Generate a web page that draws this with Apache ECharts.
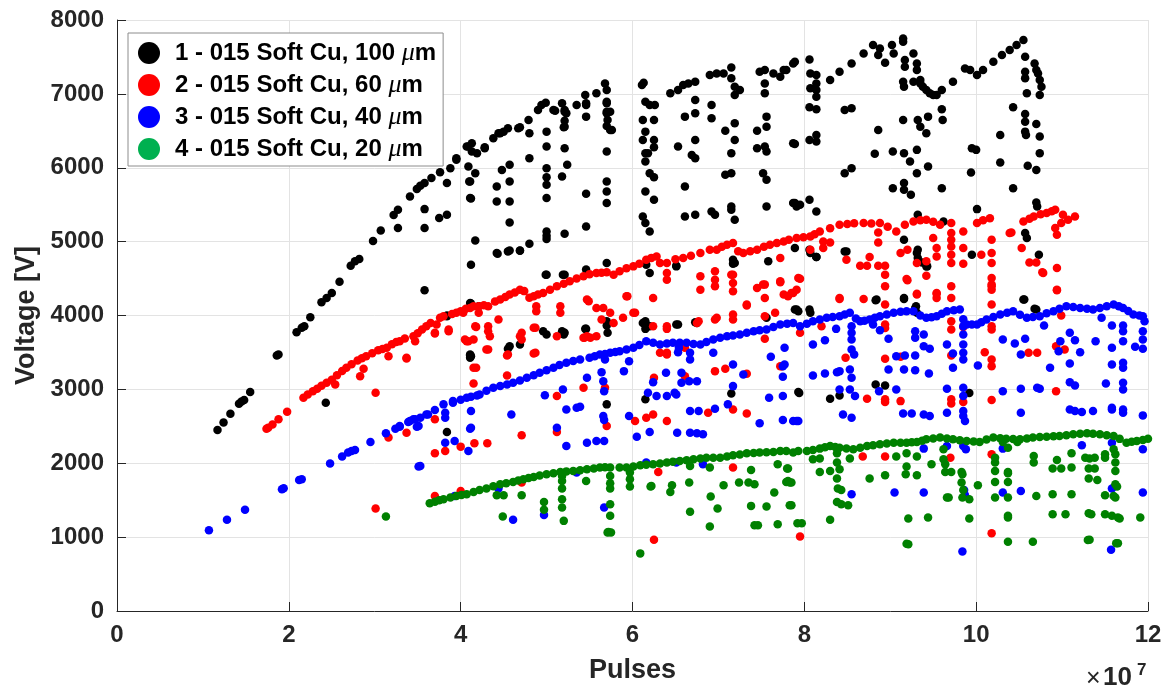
<!DOCTYPE html>
<html>
<head>
<meta charset="utf-8">
<script src="https://cdn.jsdelivr.net/npm/echarts@6/dist/echarts.min.js"></script>
<style>
  html, body { margin: 0; padding: 0; background: #ffffff; }
  #chart { width: 1165px; height: 689px; }
</style>
</head>
<body>
<div id="chart"></div>
<script>
// Breakdown voltage vs. accumulated pulses (pulses in units of 1e7)
const seriesNames = [
  '1 - 015 Soft Cu, 100 μm',
  '2 - 015 Soft Cu, 60 μm',
  '3 - 015 Soft Cu, 40 μm',
  '4 - 015 Soft Cu, 20 μm'
];

// 100 um gap
const black = [
  [1.17,2450],[1.24,2550],[1.32,2670],[1.42,2806],[1.45,2837],[1.48,2855],[1.55,2963],
  [1.86,3460],[1.88,3472],[2.09,3773],[2.15,3833],[2.18,3854],[2.25,3976],[2.38,4179],[2.44,4238],
  [2.5,4305],[2.59,4458],[2.72,4674],[2.77,4733],[2.82,4765],[2.98,5008],[3.07,5151],[3.22,5359],
  [3.27,5431],[3.41,5611],[3.49,5711],[3.53,5755],[3.58,5792],[3.66,5860],[3.76,5940],
  [3.88,5994],[3.95,6107],[3.95,6129],[4.07,6287],[4.09,6287],[4.13,6332],[4.13,6219],[4.19,6197],
  [4.28,6265],[4.28,6278],[4.38,6400],[4.44,6467],[4.46,6467],[4.5,6489],[4.55,6535],[4.67,6535],
  [4.69,6548],[4.79,6647],[4.9,6782],[4.94,6849],[4.99,6881],[5.08,6782],[5.1,6773],[5.18,6872],
  [5.21,6782],[5.35,6849],[5.45,6985],[5.58,7008],[5.68,7142],
  [6.11,7120],[6.13,7151],[6.44,7008],[6.53,7052],[6.59,7120],[6.65,7142],[6.73,7165],[6.9,7255],
  [6.98,7277],[7.06,7277],[7.15,7358],[7.48,7299],[7.54,7322],[7.64,7277],[7.72,7232],[7.76,7322],
  [7.79,7322],[7.87,7412],[7.89,7435],[8.06,7466],[8.3,7187],[8.41,7299],[8.55,7412],[8.69,7548],
  [8.8,7660],[8.86,7525],[8.88,7615],[8.94,7421],[9.02,7660],[9.04,7548],[9.15,7750],[9.15,7705],
  [9.27,7548],[9.31,7412],[9.31,7322],[9.35,7187],[9.42,7052],[9.5,6985],[9.6,7052],[9.46,7008],
  [9.54,6985],[9.73,7165],[9.87,7345],[9.93,7322],[10.01,7255],[10.08,7322],[10.2,7435],[10.3,7525],
  [10.39,7593],[10.47,7660],[10.55,7728],[10.57,7502],[10.68,7412],[10.72,7277],[10.74,7187],
  [10.74,6985],[10.7,7322],[10.76,7097],
  [2.43,2820],[3.27,5183],[3.58,5440],[3.58,5183],[3.75,5319],[3.84,5363],[3.58,4341],[4.10,5813],
  [4.12,5584],[4.17,5016],[4.12,4688],[3.84,3999],[4.12,4161],[4.12,3449],[3.84,5792],
  [4.09,6017],[4.17,5926],[4.11,5814],[4.11,5589],[4.11,4170],[4.21,4125],[4.11,3472],[4.57,3585],
  [4.69,3607],[4.42,5746],[4.42,5543],[4.48,5971],[4.57,6039],[4.57,5814],[4.57,5543],[4.57,5259],
  [4.42,4846],[4.57,4881],[4.69,4881],[4.8,4972],[4.8,6467],[4.8,6130],
  [5.0,6489],[5.0,6287],[5.0,5994],[5.0,5873],[5.0,5769],[5.0,5589],[5.0,5138],[5.0,5080],[5.0,5035],[5.0,4553],
  [5.21,6637],[5.21,6556],[5.21,6265],[5.24,6039],[5.18,5881],[5.21,5107],[5.21,4553],[5.21,3765],
  [5.21,6759],[5.23,6737],[5.2,6548],
  [5.46,6872],[5.46,6692],[5.46,5647],[5.46,5205],[5.46,4621],[5.46,3819],[5.46,6849],
  [5.7,6872],[5.7,6737],[5.71,6647],[5.74,6512],[5.7,6219],[5.7,5814],[5.7,5679],[5.7,5522],
  [5.7,4711],[5.71,3900],[5.71,3765],[5.7,7052],[5.7,6894],[5.7,6759],[5.74,6759],[5.7,6566],[5.76,6512],
  [6.15,6894],[6.2,6849],[6.12,6647],[6.25,6647],[6.15,6489],[6.25,6377],[6.12,6377],[6.25,6278],
  [6.15,6197],[6.15,6084],[6.2,5926],[6.25,5873],[6.15,5679],[6.25,5567],[6.12,5341],[6.15,5251],
  [6.2,5138],[6.2,4576],[6.12,3900],[6.2,3854],[6.26,6849],[6.18,6197],
  [6.73,6918],[6.73,6737],[6.73,6377],[6.69,6174],[6.73,6129],[6.61,6692],[6.53,6287],[6.61,5746],
  [6.61,5341],[6.73,5363],[6.51,4665],[6.53,3877],[6.75,3900],
  [7.15,7210],[7.19,7097],[7.19,6985],[7.25,7052],[7.19,6602],[7.19,6377],[7.15,6197],[7.08,5904],
  [7.15,5926],[7.15,5476],[7.15,5431],[7.19,5296],[7.19,4711],
  [6.92,6849],[6.92,6669],[7.08,6502],[6.92,5408],[6.96,5363],
  [7.54,7142],[7.54,7008],[7.56,6692],[7.56,6556],[7.45,6502],[7.45,6265],[7.54,6287],[7.56,6219],
  [7.52,5926],[7.56,5836],[7.56,5476],[7.87,6332],[7.87,5522],[7.91,5476],
  [8.07,7277],[8.14,7255],[8.14,7142],[8.07,7075],[8.14,7052],[8.14,6962],[8.06,6818],[8.14,6791],
  [8.14,6444],[8.06,6377],[8.14,6354],[7.89,6323],[8.06,5567],[8.14,5408],[7.89,5522],[7.95,5498],
  [7.89,4914],[8.06,4891],[8.14,4792],[7.89,4080],[8.06,4080],
  [8.47,6782],[8.55,6805],[8.86,6512],[8.47,5926],[8.55,5994],[8.82,6188],[8.47,4868],[8.84,4215],
  [9.17,7458],[9.17,7367],[9.15,7165],[9.16,7097],[9.15,6647],[9.03,6219],[9.16,6197],[9.16,5792],
  [9.16,5701],[9.24,5634],[9.03,5724],[9.16,4238],[9.16,5026],
  [9.27,7165],[9.35,7142],[9.38,7097],[9.32,6647],[9.35,6556],[9.42,6467],[9.44,6692],[9.23,6084],
  [9.31,6242],[9.31,5926],[9.44,6017],[9.6,6791],[9.61,6647],[9.6,5724],[9.32,5363],[9.32,4891],
  [9.32,4779],[9.42,4665],[9.62,5273],[9.3,4125],
  [9.95,6265],[10.0,6242],[9.94,5935],[10.01,5440],[10.28,6444],[10.28,6070],[10.43,6818],[10.43,5724],
  [10.57,7299],[10.57,7210],[10.59,7008],[10.57,6728],[10.57,6624],[10.57,6489],[10.58,6444],[10.6,6026],
  [10.7,5971],[10.7,6593],[10.74,6422],[10.74,6197],[10.7,5530],[10.71,5476],[10.57,5116],[10.59,5048],
  [10.73,4823],[10.55,4215],[10.68,4090],
  [4.43,4837],[4.55,4868],[4.69,4877],[4.99,4553],[5.19,4553],[3.84,3990],[4.11,3459],[4.11,3427],
  [4.55,3549],[4.96,3787],[5.0,3742],[5.18,3787],[5.2,3742],[5.45,3819],[5.7,3922],[5.7,3864],
  [5.7,2797],[3.84,2423],[6.15,3922],[6.15,3819],[6.15,2865],[6.16,4688],[6.51,4674],[6.51,3877],
  [6.73,3909],[7.17,4755],[7.17,4701],[7.56,3968],[7.91,4080],[7.15,2945],[7.93,2963],[7.58,4733],
  [7.93,4058],[8.07,4036],[7.94,2952],[8.3,2874],[8.41,2918],[8.83,4206],[9.16,4224],[9.29,4103],
  [9.31,4036],[8.83,3067],[8.94,3053],[9.92,2952],[10.56,4215],[10.7,4080],[9.31,4846],[9.37,4719],
  [9.43,4665],[9.95,4823],[8.07,4846],[8.14,4792],[8.49,4868]
];

// 60 um gap
const red = [
  [1.74,2468],[1.76,2482],[1.81,2526],[1.88,2594],[1.98,2698],[2.17,2887],[2.22,2930],[2.28,2975],
  [2.33,3010],[2.38,3050],[2.44,3090],[2.5,3130],[2.56,3190],[2.62,3250],[2.67,3292],[2.73,3340],
  [2.8,3390],[2.85,3420],[2.9,3449],[2.97,3490],[3.04,3530],[3.09,3545],[3.14,3563],[3.2,3610],
  [3.25,3640],[3.29,3652],[3.35,3690],[3.45,3719],[3.5,3760],[3.55,3810],[3.6,3854],[3.65,3900],
  [3.72,3877],[3.76,3968],[3.8,3990],[3.9,4020],[3.95,4036],[4.0,4057],[4.06,4090],[4.11,4103],
  [4.15,4125],[4.21,4125],[4.27,4140],[4.32,4125],[4.4,4190],[4.46,4215],[4.52,4250],[4.57,4283],
  [4.63,4310],[4.69,4350],[4.74,4330],[4.8,4240],[4.85,4260],[4.9,4283],[4.96,4305],[5.04,4350],
  [5.12,4395],[5.2,4430],[5.27,4462],[5.35,4500],[5.43,4530],[5.5,4560],[5.58,4576],[5.64,4580],
  [5.7,4584],[5.78,4553],[5.85,4598],[5.93,4640],[6.01,4665],[6.08,4700],[6.16,4755],[6.22,4780],
  [6.28,4800],[6.32,4711],[6.4,4711],[6.5,4760],[6.59,4779],[6.68,4810],[6.79,4846],[6.9,4891],
  [6.98,4891],[7.04,4930],[7.1,4958],[7.17,4981],[7.23,4870],[7.29,4846],[7.37,4870],[7.45,4891],
  [7.53,4930],[7.6,4958],[7.68,4980],[7.76,5003],[7.82,5025],[7.91,5048],[7.99,5060],[8.07,5071],
  [8.12,5100],[8.18,5138],[8.3,5180],[8.41,5228],[8.5,5240],[8.58,5250],[8.69,5251],[8.78,5245],
  [8.88,5251],[8.97,5200],[9.07,5138],[9.17,5230],[9.27,5273],[9.35,5290],[9.42,5296],[9.5,5270],
  [9.58,5228],[9.71,5251],[9.85,5138],[10.01,5251],[10.08,5290],[10.16,5318],[10.55,5273],[10.62,5310],
  [10.67,5341],[10.75,5370],[10.82,5386],[10.88,5410],[10.92,5431],[10.99,5251],[11.01,5363],
  [11.07,5296],[11.15,5341],
  [2.54,3067],[3.01,2955],[3.01,1387],[3.16,2347],[3.37,2414],[2.83,3179],[2.87,3279],[3.16,3449],
  [3.37,3418],[3.47,3652],[3.7,3756],[3.86,3787],[4.09,3652],[4.15,3675],[4.17,3854],[4.18,3292],
  [4.15,3080],[3.7,2594],
  [4.03,4036],[4.21,4036],[4.32,3854],[4.34,3719],[4.05,3675],[4.3,3540],[4.55,3472],[4.69,3719],
  [4.87,3833],[4.87,3495],[5.16,4125],[5.16,4036],[5.12,3719],[5.47,4215],[5.58,4103],[5.66,4103],
  [5.64,3945],[5.78,3900],[5.89,3968],[6.01,4036],[5.47,3719],[5.43,3698],[5.93,4260],[6.24,4238],
  [6.24,3854],[6.4,4576],[6.4,4485],[6.4,3854],[6.32,3495],[6.4,3472],[6.79,4530],[6.79,4350],
  [6.75,3900],[6.96,4598],[6.96,4485],[6.96,4395],[6.98,3968],[7.17,4553],[7.17,4327],[7.17,4013],
  [7.17,3945],[7.33,4148],[7.45,4373],[7.54,4418],[7.54,4238],[7.54,3990],[7.72,4779],[7.72,4462],
  [7.76,4283],[7.87,4305],[7.91,4350],
  [3.37,3427],[3.7,3765],[3.86,3810],[4.07,3652],[4.18,3846],[4.32,3787],[4.32,3540],[4.15,3292],
  [4.54,3459],[4.44,3945],[4.71,3765],[4.71,3675],[4.54,3188],[4.85,3833],[4.85,3486],[4.88,4125],
  [4.88,4058],[5.44,3698],[5.51,3698],[5.49,4193],[5.58,3719],[5.74,4036],[5.94,4260],[6.03,4036],
  [6.4,3819],[6.4,3495],[6.25,3157],[6.24,2661],[6.4,2571],[6.03,2571],[6.16,2617],[6.61,3563],
  [6.61,3179],[6.77,3922],[6.96,3945],[6.96,3247],[7.08,3279],[6.88,2685],[7.17,2729],[7.33,2675],
  [7.17,1941],[7.15,4553],[7.17,4441],[7.54,3684],[7.33,4134],[7.52,4418],[7.72,4449],[7.66,4036],
  [7.85,4305],[7.72,3314],[7.33,3211],[6.25,963],[3.7,1558],[4.0,1625],[3.7,2135],[3.82,2166],
  [4.0,2225],[4.16,2270],[4.31,2270],[4.71,2378],[5.12,2423],[5.43,3022],[5.12,2909],[5.68,3022],
  [5.7,2504],[4.71,1739],[6.3,1882],
  [7.95,4499],[7.81,4260],[7.74,3314],[7.95,3765],[8.2,3854],[8.41,4224],[8.49,4755],[8.69,4224],
  [8.65,4674],[8.73,4674],[8.86,4674],[8.94,4674],[8.94,4553],[8.94,4395],[8.94,4148],[8.94,3877],
  [8.94,3832],[8.48,3427],[8.94,3414],[8.73,2874],[8.94,2865],[8.94,2828],[8.68,2090],[8.94,2090],
  [9.12,2841],[9.12,3441],[9.2,4476],[9.31,4296],[9.31,4711],[9.54,4296],[9.54,4238],[9.71,4823],
  [9.71,4711],[9.71,4395],[9.71,4238],[9.71,3922],[9.71,3810],[9.71,3459],[9.85,4701],[9.71,2865],
  [9.71,2810],[9.85,2828],[9.85,3846],[10.06,4823],[10.18,4418],[10.18,4350],[10.18,3854],[10.18,3810],
  [10.18,3405],[10.18,3314],[10.1,3503],[10.18,2855],[10.18,2121],[10.18,1054],[10.18,5026],
  [10.18,4846],[10.18,4711],[10.18,4508],[10.18,4395],[10.18,4148],[10.62,4719],[10.7,4719],
  [10.77,4584],[10.94,4643],[10.94,4350],[10.61,3495],[10.71,3495],[10.93,3585],[11.03,3540],
  [10.93,2976],[10.99,3999],[10.78,4576],[10.94,4341],[10.92,5183],[10.94,5093],[10.41,5124],
  [10.53,4914],[9.7,2076],[7.95,1010],
  [7.93,4508],[8.07,4891],[8.22,4914],[8.22,5003],[8.3,4989],[8.86,5124],[8.86,4989],[8.76,4792],
  [9.12,4846],[9.2,4891],[9.19,4495],[9.31,4283],[9.42,4733],[9.42,4539],[9.5,5048],[9.54,4914],
  [9.54,4800],[9.54,4305],[9.71,5116],[9.71,5026],[9.71,4935],[9.85,4914],[10.39,5116],[8.41,4238]
];

// 40 um gap
const blue = [
  [1.07,1094],[1.28,1234],[1.49,1369],[1.92,1648],[1.94,1662],[2.12,1774],[2.15,1783],[2.48,1995],
  [2.62,2090],[2.69,2144],[2.73,2166],[2.77,2179],[2.95,2287],[3.13,2405],[3.24,2468],[3.29,2495],
  [3.29,2504],[3.39,2557],[3.41,2571],[3.45,2594],[3.47,2594],[3.53,2617],[3.6,2661],[3.62,2661],
  [3.7,2720],[3.8,2797],[3.91,2841],[3.91,2820],[4.0,2860],[4.07,2887],[4.12,2900],[4.19,2918],
  [4.22,2932],[4.3,2980],[4.38,3022],[4.46,3045],[4.54,3067],[4.61,3090],[4.69,3120],[4.77,3157],
  [4.85,3190],[4.92,3225],[5.0,3260],[5.08,3292],[5.15,3330],[5.23,3360],[5.31,3385],[5.39,3405],
  [5.5,3427],[5.56,3450],[5.62,3472],[5.68,3480],[5.74,3495],[5.8,3505],[5.85,3517],[5.93,3540],
  [6.01,3563],[6.08,3600],[6.16,3652],[6.24,3630],[6.32,3607],[6.4,3620],[6.47,3630],[6.55,3630],
  [6.63,3630],[6.71,3615],[6.79,3607],[6.86,3640],[6.94,3675],[7.02,3700],[7.1,3719],[7.17,3730],
  [7.25,3742],[7.33,3765],[7.41,3787],[7.48,3800],[7.56,3810],[7.64,3845],[7.72,3877],[7.8,3890],
  [7.87,3900],[7.95,3854],[8.03,3890],[8.1,3922],[8.18,3945],[8.26,3968],[8.33,3980],[8.41,3990],
  [8.47,4013],[8.53,4036],[8.6,3960],[8.65,3922],[8.7,3930],[8.76,3945],[8.82,3970],[8.88,3990],
  [8.96,4013],[9.04,4036],[9.12,4050],[9.19,4058],[9.27,4058],[9.35,4000],[9.42,3968],[9.48,3975],
  [9.54,3990],[9.6,4025],[9.66,4058],[9.74,4070],[9.81,4080],[9.85,3950],[9.89,3877],[9.95,3877],
  [10.01,3877],[10.06,3910],[10.12,3945],[10.2,3980],[10.28,4013],[10.36,4036],[10.43,4058],
  [10.51,4010],[10.59,3968],[10.66,3980],[10.74,3990],[10.82,4030],[10.9,4058],[10.97,4090],
  [11.05,4125],[11.13,4115],[11.21,4103],[11.29,4090],[11.36,4080],[11.44,4103],[11.52,4125],
  [11.6,4148],[11.66,4125],[11.71,4103],[11.77,4060],[11.83,4013],[11.9,4000],[11.94,3990],[11.96,3922],
  [3.49,2495],[3.51,1955],[3.82,2617],[4.12,2706],[4.12,2482],[3.51,2504],[3.82,2685],[3.82,2279],
  [3.93,2301],[4.09,2166],[4.11,2468],[3.53,1963],[4.59,2661],[4.98,2922],[5.19,2999],[5.23,2729],
  [5.35,2752],[5.39,2765],[5.12,2482],[5.23,2233],[5.47,3157],[5.47,2279],[5.58,2301],[5.67,2301],
  [5.64,3233],[5.66,3111],[5.67,2976],[5.66,2639],[5.67,2584],[5.68,3405],[5.96,3382],[5.9,3247],
  [5.96,2639],[6.05,2360],[6.2,2423],[6.18,2955],[6.28,2909],[6.4,2909],[6.24,3098],[6.39,3225],
  [6.54,3563],[6.53,3503],[6.57,3225],[6.57,3090],[6.66,3111],[6.75,3111],[6.49,2955],[6.51,2932],
  [6.67,2706],[6.77,2706],[6.52,2414],[6.67,2414],[6.75,2405],[6.82,2391],[6.67,3495],[6.67,3405],
  [6.94,3495],[6.96,2738],[7.11,2797],[7.17,3337],[7.17,3044],[7.29,3202],[7.48,2540],[7.61,3441],
  [7.59,2887],[7.75,2909],[7.77,3563],[7.77,3337],[7.75,3170],[7.75,2584],[7.91,2571],[6.16,2009],
  [6.51,2009],[6.82,1986],[4.97,1301],[4.61,1234],[4.44,1658],[3.93,1558],[5.67,1401],[5.35,1874],
  [7.75,3314],[7.87,2571],[7.93,2571],[8.1,3607],[8.24,3665],[8.1,3188],[8.24,3215],[8.38,3233],
  [8.41,3247],[8.37,3819],[8.55,3854],[8.55,3765],[8.55,3675],[8.55,3540],[8.58,3472],[8.53,3269],
  [8.55,3157],[8.41,2999],[8.53,2999],[8.59,2909],[8.45,2661],[8.55,2617],[8.55,1581],[8.8,3877],
  [8.88,3800],[8.98,3684],[8.87,2976],[9.07,3449],[9.17,3459],[9.29,3459],[8.98,3269],[9.16,3269],
  [9.29,3260],[9.45,3215],[9.29,3787],[9.29,3698],[9.39,3742],[9.39,3585],[9.46,3549],[9.07,2999],
  [9.15,2675],[9.25,2675],[9.39,2661],[9.46,2639],[9.05,1603],[9.39,2198],[9.39,1603],[9.66,3607],
  [9.73,3486],[9.73,3292],[9.66,3009],[9.66,2685],[9.66,2233],[9.85,3854],[9.85,3742],[9.85,3607],
  [9.85,3495],[9.85,3405],[9.85,3022],[9.85,2909],[9.85,2706],[9.85,2639],[9.87,2571],[9.85,2233],
  [9.88,2189],[9.86,1639],[9.87,1567],[9.84,806],[10.02,3323],[10.31,3675],[10.45,3621],[10.52,3472],
  [10.57,3684],[10.31,2976],[10.52,3009],[10.71,3022],[10.74,3009],[10.52,2685],[10.31,1603],
  [10.52,1625],[10.31,2198],[10.79,3864],[10.98,3652],[10.96,3517],[10.86,3292],[11.09,3765],
  [11.15,3665],[11.21,3503],[11.09,3350],[11.09,3098],[11.15,3053],[11.09,2729],[11.15,2706],
  [11.23,2693],[11.36,2706],[11.23,2243],[11.39,3652],[11.46,3968],[11.51,3080],[11.58,3864],
  [11.58,3563],[11.58,3337],[11.58,2752],[11.58,2729],[11.71,3864],[11.71,3787],[11.71,3652],
  [11.71,3360],[11.71,3292],[11.71,3090],[11.71,2999],[11.71,2729],[11.71,2685],[11.58,2279],
  [11.58,1658],[11.57,828],[11.85,3576],[11.94,3787],[11.94,3675],[11.94,3549],[11.94,2648],
  [11.94,2189],[11.94,1603]
];

// 20 um gap
const green = [
  [3.64,1459],[3.7,1480],[3.75,1500],[3.8,1513],[3.88,1535],[3.95,1558],[4.01,1570],[4.07,1581],
  [4.15,1610],[4.22,1639],[4.3,1658],[4.38,1690],[4.46,1716],[4.53,1730],[4.61,1747],[4.67,1765],
  [4.73,1783],[4.79,1800],[4.85,1815],[4.92,1835],[5.0,1851],[5.08,1866],[5.16,1882],[5.23,1890],
  [5.31,1896],[5.39,1905],[5.47,1918],[5.55,1930],[5.62,1941],[5.68,1945],[5.74,1941],[5.85,1941],
  [5.93,1941],[6.01,1955],[6.09,1972],[6.16,1980],[6.24,1986],[6.32,1998],[6.4,2009],[6.47,2020],
  [6.55,2031],[6.63,2042],[6.71,2054],[6.79,2065],[6.86,2076],[6.94,2076],[7.02,2076],[7.1,2092],
  [7.17,2108],[7.25,2120],[7.33,2135],[7.41,2140],[7.48,2144],[7.56,2150],[7.64,2153],[7.72,2166],
  [7.79,2166],[7.87,2144],[7.93,2166],[8.03,2166],[8.1,2180],[8.18,2198],[8.24,2215],[8.3,2233],
  [8.36,2220],[8.41,2211],[8.49,2200],[8.57,2189],[8.65,2210],[8.73,2233],[8.8,2245],[8.88,2256],
  [8.96,2268],[9.04,2279],[9.12,2279],[9.19,2279],[9.25,2285],[9.31,2288],[9.37,2305],[9.42,2324],
  [9.5,2335],[9.58,2347],[9.66,2335],[9.73,2324],[9.81,2312],[9.89,2301],[9.97,2295],[10.04,2288],
  [10.12,2320],[10.2,2347],[10.28,2340],[10.35,2333],[10.43,2328],[10.51,2324],[10.59,2335],
  [10.66,2347],[10.74,2355],[10.82,2360],[10.9,2365],[10.97,2369],[11.05,2380],[11.13,2391],
  [11.21,2398],[11.29,2405],[11.36,2398],[11.44,2391],[11.52,2380],[11.6,2369],[11.67,2330],
  [11.75,2279],[11.81,2290],[11.87,2301],[11.94,2315],[12.0,2333],
  [3.13,1280],[4.42,1567],[4.5,1567],[4.49,1279],[4.71,1567],[4.97,1477],[4.97,1369],[5.18,1658],
  [5.18,1513],[5.18,1401],[5.2,1220],[5.18,1828],[5.18,1761],[5.46,1761],[5.74,1828],[5.74,1729],
  [5.74,1658],[5.74,1446],[5.74,1288],[5.72,1071],[5.75,1063],[5.71,1063],[5.97,1874],[5.97,1783],
  [5.97,1684],[6.09,780],[6.21,1684],[6.44,1612],[6.46,1702],[6.66,1739],[6.67,1342],[6.91,1549],
  [6.9,1144],[6.99,1387],[7.06,1702],[7.24,1739],[7.35,1739],[7.42,1716],[7.38,1423],[7.42,1162],
  [7.46,1162],[7.56,1414],[7.69,1175],[7.65,1603],[7.79,1747],[7.83,1739],[7.83,1432],[7.92,1189],
  [7.38,1909],[7.69,1986],[7.8,1928],[6.67,1963],[6.9,1941],[6.22,1693],
  [7.81,1928],[7.81,1761],[7.85,1739],[7.85,1432],[7.97,1189],[8.1,2054],[8.18,2063],[8.18,1882],
  [8.3,1896],[8.3,1234],[8.38,2135],[8.38,2009],[8.41,1918],[8.38,1792],[8.39,1658],[8.43,1639],
  [8.38,1477],[8.43,1446],[8.51,1432],[8.53,2063],[8.76,1792],[8.94,1837],[9.07,2090],[9.19,2135],
  [9.19,1955],[9.18,1851],[9.21,1252],[9.21,905],[9.19,910],[9.31,2090],[9.31,1837],[9.44,1266],
  [9.48,1986],[9.62,2189],[9.62,2054],[9.64,1986],[9.64,1882],[9.71,1882],[9.66,1536],[9.68,1536],
  [9.83,1882],[9.84,1851],[9.83,1739],[9.85,1639],[9.84,1536],[9.92,1513],[9.92,1252],[10.02,1702],
  [10.22,2076],[10.22,2009],[10.22,1896],[10.22,1747],[10.22,1536],[10.37,1882],[10.37,1864],
  [10.37,1747],[10.37,1536],[10.37,1288],[10.37,1266],[10.37,937],[10.31,2288],[10.37,2211],
  [10.48,2288],[10.67,2099],[10.67,2009],[10.7,1558],[10.66,937],[10.89,1928],[10.99,1928],
  [11.11,1941],[10.94,2045],[11.11,2135],[10.89,1581],[11.11,1581],[10.89,1310],[11.04,1310],
  [11.27,2076],[11.32,2063],[11.38,2076],[11.31,1928],[11.38,1928],[11.31,1792],[11.41,1774],
  [11.5,1567],[11.31,1324],[11.34,1310],[11.32,963],[11.3,960],[11.5,2121],[11.5,2076],[11.6,2189],
  [11.62,2121],[11.62,2009],[11.62,1896],[11.62,1716],[11.64,1684],[11.6,1558],[11.62,1536],
  [11.5,1310],[11.58,1288],[11.65,1266],[11.67,1252],[11.65,918],[11.63,918],[11.91,1266]
];

const seriesData = [black, red, blue, green];
const markerColors = ['#000000', '#ff0000', '#0000ff', '#008000'];
const legendColors = ['#000000', '#ff0000', '#0000ff', '#00b050'];

const FONT = '"Liberation Sans", Arial, Helvetica, sans-serif';
const AXIS_COLOR = '#262626';

const chart = echarts.init(document.getElementById('chart'), null, { renderer: 'canvas' });

chart.setOption({
  animation: false,
  backgroundColor: '#ffffff',
  grid: { left: 117, right: 17, top: 20, bottom: 77, containLabel: false },
  xAxis: {
    type: 'value',
    min: 0, max: 12, interval: 2,
    name: 'Pulses',
    nameLocation: 'middle',
    nameGap: 46,
    nameTextStyle: { fontFamily: FONT, fontWeight: 'bold', fontSize: 27, color: AXIS_COLOR },
    axisLine: { show: true, onZero: false, lineStyle: { color: AXIS_COLOR, width: 1 } },
    axisTick: { show: true, inside: true, length: 9, lineStyle: { color: AXIS_COLOR } },
    axisLabel: { fontFamily: FONT, fontWeight: 'bold', fontSize: 24, color: AXIS_COLOR, margin: 12,
                 formatter: v => String(v) },
    splitLine: { show: true, lineStyle: { color: '#e3e3e3', width: 1 } }
  },
  yAxis: {
    type: 'value',
    min: 0, max: 8000, interval: 1000,
    name: 'Voltage [V]',
    nameLocation: 'middle',
    nameGap: 75,
    nameRotate: 90,
    nameTextStyle: { fontFamily: FONT, fontWeight: 'bold', fontSize: 27, color: AXIS_COLOR },
    axisLine: { show: true, onZero: false, lineStyle: { color: AXIS_COLOR, width: 1 } },
    axisTick: { show: true, inside: true, length: 9, lineStyle: { color: AXIS_COLOR } },
    axisLabel: { fontFamily: FONT, fontWeight: 'bold', fontSize: 24, color: AXIS_COLOR, margin: 13,
                 formatter: v => String(v) },
    splitLine: { show: true, lineStyle: { color: '#e3e3e3', width: 1 } }
  },
  legend: {
    orient: 'vertical',
    left: 128, top: 33,
    padding: [7, 7, 4, 10],
    itemWidth: 22, itemHeight: 22, itemGap: 6,
    backgroundColor: '#ffffff',
    borderColor: '#8c8c8c', borderWidth: 1, borderRadius: 0,
    textStyle: {
      fontFamily: FONT, fontWeight: 'bold', fontSize: 24, lineHeight: 24, color: '#000000',
      padding: [0, 0, 0, 10],
      rich: {
        mu: { fontFamily: '"Liberation Serif", "DejaVu Serif", serif', fontStyle: 'italic', fontWeight: 'normal',
              fontSize: 26, lineHeight: 24, color: '#000000' }
      }
    },
    formatter: name => name.replace('μm', '{mu|μ}m'),
    data: seriesNames.map((n, i) => ({ name: n, icon: 'circle', itemStyle: { color: legendColors[i] } }))
  },
  graphic: [
    { type: 'text', left: 1086, top: 667,
      style: { text: '×', fontFamily: FONT, fontSize: 25, fill: AXIS_COLOR } },
    { type: 'text', left: 1103, top: 665,
      style: { text: '10', fontFamily: FONT, fontWeight: 'bold', fontSize: 26, fill: AXIS_COLOR } },
    { type: 'text', left: 1137, top: 662,
      style: { text: '7', fontFamily: FONT, fontWeight: 'bold', fontSize: 17, fill: AXIS_COLOR } }
  ],
  series: seriesNames.map((n, i) => ({
    name: n,
    type: 'scatter',
    data: seriesData[i],
    symbol: 'circle',
    symbolSize: 8.5,
    itemStyle: { color: markerColors[i], opacity: 1 },
    emphasis: { disabled: true },
    z: 2 + i
  }))
});
</script>
</body>
</html>
